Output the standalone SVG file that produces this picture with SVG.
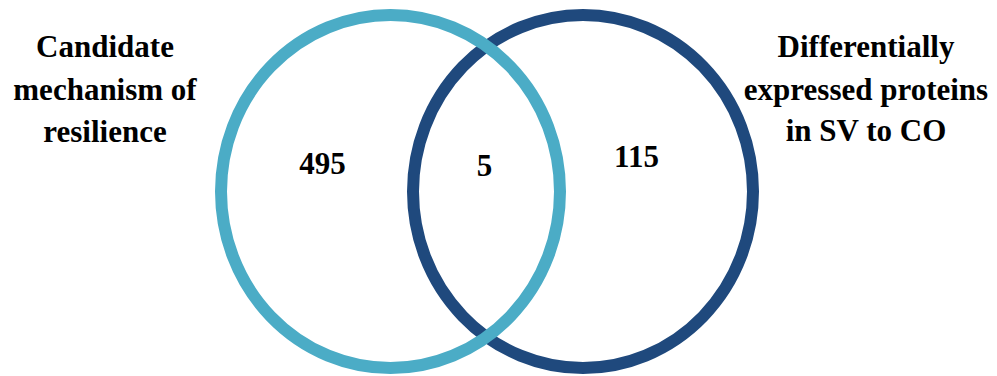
<svg xmlns="http://www.w3.org/2000/svg" width="997" height="376" viewBox="0 0 997 376">
<style>
.ring{fill:none;stroke-width:12}
.lbl{font-family:"Liberation Serif","Times New Roman",serif;font-weight:bold;font-size:31px;fill:#000;text-anchor:middle}
</style>
<rect width="997" height="376" fill="#fff"/>
<g id="set-differential">
<ellipse class="ring" cx="583" cy="191.5" rx="170" ry="176.5" stroke="#1F497D"/>
</g>
<g id="set-candidate">
<ellipse class="ring" cx="390.5" cy="191.5" rx="169.5" ry="176.5" stroke="#4BACC6"/>
</g>
<g id="label-candidate">
<text class="lbl" x="105" y="57">Candidate</text>
<text class="lbl" x="105" y="100">mechanism of</text>
<text class="lbl" x="105" y="142">resilience</text>
</g>
<g id="label-differential">
<text class="lbl" x="866" y="57">Differentially</text>
<text class="lbl" x="866" y="100">expressed proteins</text>
<text class="lbl" x="866" y="141">in SV to CO</text>
</g>
<g id="count-left"><text class="lbl" x="322.5" y="174">495</text></g>
<g id="count-overlap"><text class="lbl" x="484.5" y="176">5</text></g>
<g id="count-right"><text class="lbl" x="636.5" y="167">115</text></g>
<g id="connectors"/>
</svg>
